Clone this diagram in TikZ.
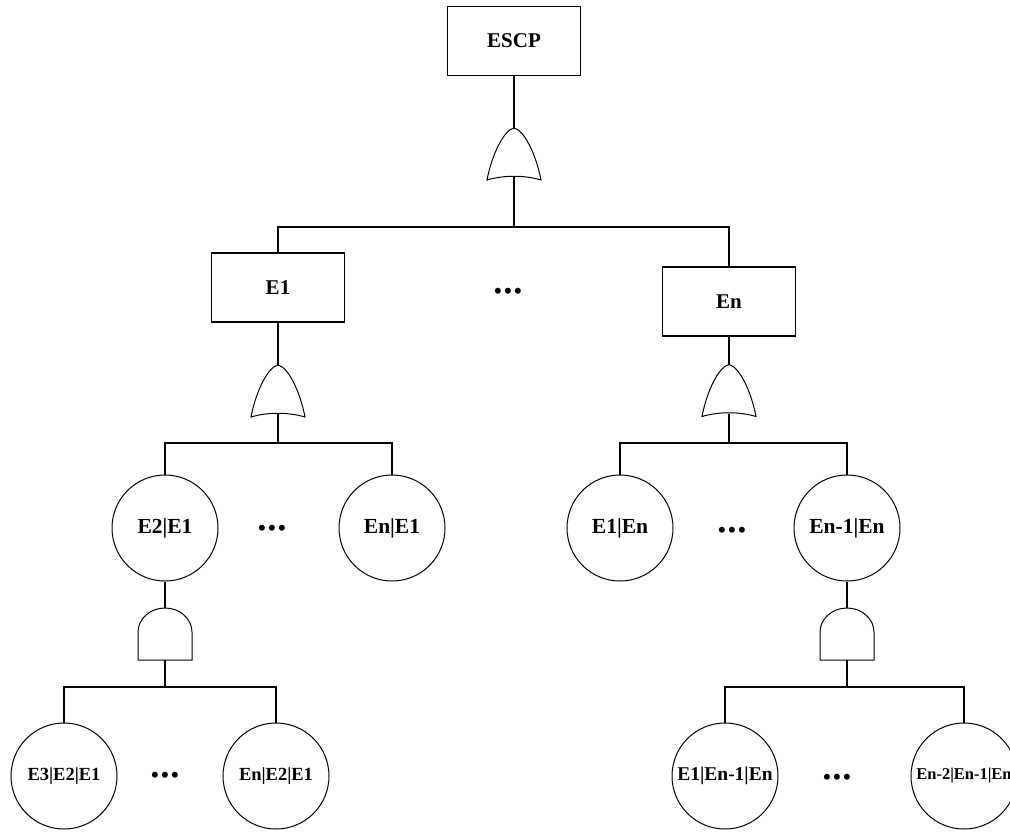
\documentclass[tikz,border=0pt]{standalone}
\usepackage{fontspec}
\setmainfont{Liberation Serif}
\tikzset{
    evt/.style={draw, line width=1.3pt, minimum width=133pt, minimum height=69pt, inner sep=0pt, font=\bfseries\fontsize{21}{22}\selectfont},
    cond/.style={draw, circle, line width=1pt, minimum size=106pt, inner sep=0pt, font=\bfseries\fontsize{21.5}{22}\selectfont},
    condlow/.style={cond, font=\bfseries\fontsize{18.5}{20}\selectfont},
    more/.style={inner sep=0pt, font=\bfseries\fontsize{22}{22}\selectfont},
    gate/.style={line width=1pt},
    orgate/.pic={
        \draw [gate] (-27,26) .. controls (-22,0) and (-10,-24) .. (0,-26)
            .. controls (10,-24) and (22,0) .. (27,26)
            .. controls (10,21) and (-10,21) .. cycle;
        \coordinate (-in) at (0,-26);
        \coordinate (-out) at (0,23);
    },
    andgate/.pic={
        \draw [gate] (-27,26) -- (-27,-2) .. controls (-27,-15) and (-15,-26) .. (0,-26)
            .. controls (15,-26) and (27,-15) .. (27,-2) -- (27,26) -- cycle;
        \coordinate (-in) at (0,-26);
        \coordinate (-out) at (0,26);
    }
}
\newcommand{\threedots}{•\hspace{2.3pt}•\hspace{2.3pt}•}
\begin{document}
\begin{tikzpicture}[x=1pt, y=-1pt, line width=1.3pt]
    \useasboundingbox (0,0) rectangle (1010,833);
    % top event
    \node [evt] (escp) at (514, 41) {ESCP};
    \pic (g0) at (514, 154) {orgate};
    \coordinate (b0) at (514, 227);
    \node [evt] (e1) at (278, 287.5) {E1};
    \node [evt] (en) at (729, 301.5) {En};
    \node [more] (d0) at (508, 293) {\threedots};
    \draw (escp.south) -- (g0-in);
    \draw (g0-out) -- (b0);
    \draw (e1.north) |- (b0) -| (en.north);
    % left branch
    \pic (g1) at (278, 391) {orgate};
    \coordinate (b1) at (278, 443);
    \node [cond] (e2e1) at (165, 528) {E2|E1};
    \node [cond] (ene1) at (392, 528) {En|E1};
    \node [more] (d1) at (272, 530) {\threedots};
    \draw (e1.south) -- (g1-in);
    \draw (g1-out) -- (b1);
    \draw (e2e1.north) |- (b1) -| (ene1.north);
    \pic (g3) at (165, 634) {andgate};
    \coordinate (b3) at (165, 687);
    \node [condlow] (e3e2e1) at (64, 776) {E3|E2|E1};
    \node [condlow] (ene2e1) at (276, 776) {En|E2|E1};
    \node [more] (d3) at (165, 777) {\threedots};
    \draw (e2e1.south) -- (g3-in);
    \draw (g3-out) -- (b3);
    \draw (e3e2e1.north) |- (b3) -| (ene2e1.north);
    % right branch
    \pic (g2) at (729, 390.5) {orgate};
    \coordinate (b2) at (729, 443);
    \node [cond] (e1en) at (620, 528) {E1|En};
    \node [cond] (en1en) at (847, 528) {En-1|En};
    \node [more] (d2) at (732, 532) {\threedots};
    \draw (en.south) -- (g2-in);
    \draw (g2-out) -- (b2);
    \draw (e1en.north) |- (b2) -| (en1en.north);
    \pic (g4) at (847, 634) {andgate};
    \coordinate (b4) at (847, 687);
    \node [cond, font=\bfseries\fontsize{19.5}{20}\selectfont] (e1en1en) at (725, 776) {E1|En-1|En};
    \node [cond, font=\bfseries\fontsize{16.5}{18}\selectfont] (en2en1en) at (964, 776) {En-2|En-1|En\hspace{9pt}};
    \node [more] (d4) at (837, 779) {\threedots};
    \draw (en1en.south) -- (g4-in);
    \draw (g4-out) -- (b4);
    \draw (e1en1en.north) |- (b4) -| (en2en1en.north);
\end{tikzpicture}
\end{document}
